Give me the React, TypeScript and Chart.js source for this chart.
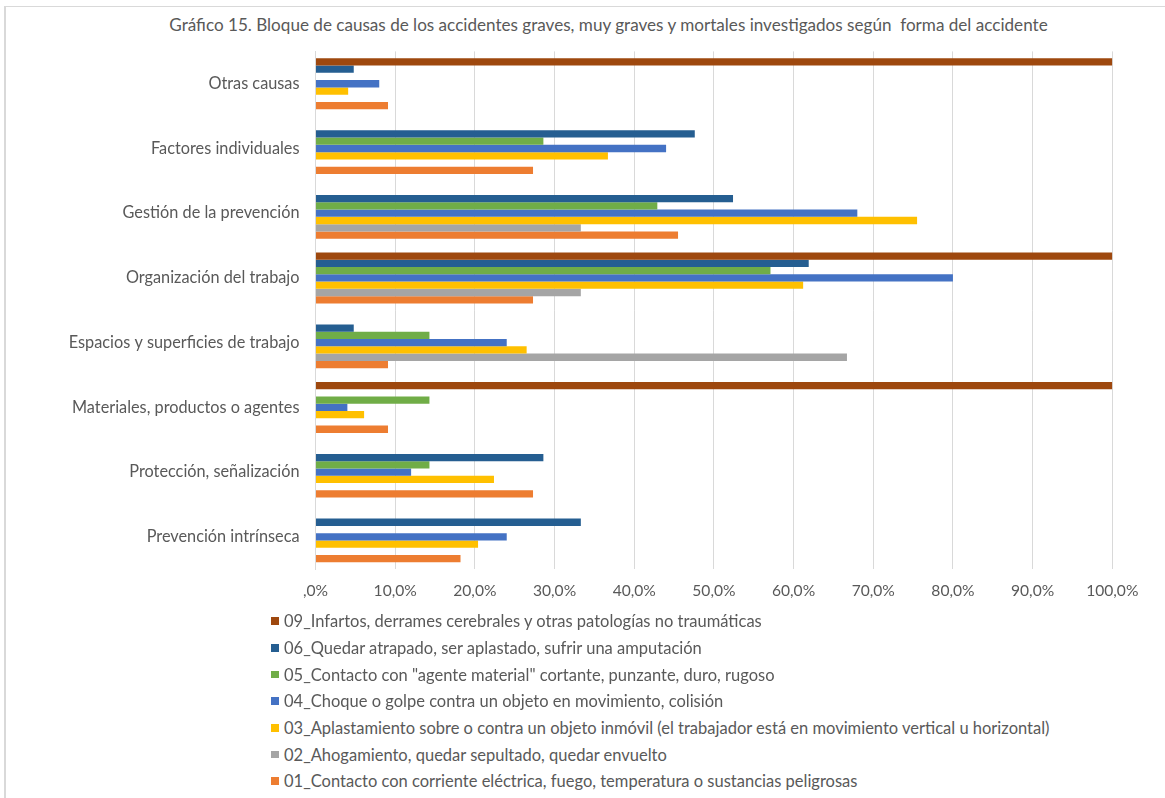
import React, { useEffect, useRef } from "react";
import { Chart, registerables } from "chart.js";

Chart.register(...registerables);

const TITLE =
  "Gráfico 15. Bloque de causas de los accidentes graves, muy graves y mortales investigados según  forma del accidente";

const categories = [
  "Otras causas",
  "Factores individuales",
  "Gestión de la prevención",
  "Organización del trabajo",
  "Espacios y superficies de trabajo",
  "Materiales, productos o agentes",
  "Protección, señalización",
  "Prevención intrínseca",
];

const seriesNames = [
  "09_Infartos, derrames cerebrales y otras patologías no traumáticas",
  "06_Quedar atrapado, ser aplastado, sufrir una amputación",
  "05_Contacto con \"agente material\" cortante, punzante, duro, rugoso",
  "04_Choque o golpe contra un objeto en movimiento, colisión",
  "03_Aplastamiento sobre o contra un objeto inmóvil (el trabajador está en movimiento vertical u horizontal)",
  "02_Ahogamiento, quedar sepultado, quedar envuelto",
  "01_Contacto con corriente eléctrica, fuego, temperatura o sustancias peligrosas",
];

const s09 = [100, null, null, 100, null, 100, null, null];
const s06 = [4.8, 47.6, 52.4, 61.9, 4.8, null, 28.6, 33.3];
const s05 = [null, 28.6, 42.9, 57.1, 14.3, 14.3, 14.3, null];
const s04 = [8.0, 44.0, 68.0, 80.0, 24.0, 4.0, 12.0, 24.0];
const s03 = [4.1, 36.7, 75.5, 61.2, 26.5, 6.1, 22.4, 20.4];
const s02 = [null, null, 33.3, 33.3, 66.7, null, null, null];
const s01 = [9.1, 27.3, 45.5, 27.3, 9.1, 9.1, 27.3, 18.2];

const seriesValues = [s09, s06, s05, s04, s03, s02, s01];

const colors = ["#9E480E", "#255E91", "#70AD47", "#4472C4", "#FFC000", "#A5A5A5", "#ED7D31"];

const FONT = "Lato, 'Open Sans', sans-serif";
const TEXT = "#595959";

const CANVAS_W = 1165;
const CANVAS_H = 612;

export default function App() {
  const ref = useRef<HTMLCanvasElement | null>(null);

  useEffect(() => {
    const canvas = ref.current;
    if (!canvas) return;
    const chart = new Chart(canvas, {
      type: "bar",
      data: {
        labels: categories,
        datasets: seriesNames.map((name, i) => ({
          label: name,
          data: seriesValues[i] as any,
          backgroundColor: colors[i],
          borderWidth: 0,
          categoryPercentage: 0.788,
          barPercentage: 1.0,
        })),
      },
      options: {
        indexAxis: "y",
        responsive: false,
        animation: false,
        devicePixelRatio: 1,
        layout: { padding: { top: 51.4, right: 52.7, left: 0, bottom: 0 } },
        plugins: {
          legend: { display: false },
          title: { display: false },
          tooltip: { enabled: false },
        },
        scales: {
          x: {
            min: 0,
            max: 100,
            ticks: {
              stepSize: 10,
              color: TEXT,
              padding: 12.5,
              font: { family: FONT, size: 15.6 },
              callback: (v: any) =>
                Number(v) === 0 ? ",0%" : Number(v).toFixed(1).replace(".", ",") + "%",
            },
            grid: { color: "#d9d9d9", lineWidth: 1, drawTicks: false },
            border: { display: false },
            afterFit: (scale: any) => {
              scale.height = CANVAS_H - 569.2;
            },
          },
          y: {
            ticks: {
              color: TEXT,
              padding: 16,
              font: { family: FONT, size: 16.3 },
            },
            grid: { display: false, drawTicks: false },
            border: { display: true, color: "#d9d9d9", width: 1 },
            afterFit: (scale: any) => {
              scale.width = 315.5;
            },
          },
        },
      },
    });
    return () => chart.destroy();
  }, []);

  return (
    <div
      style={{
        position: "absolute",
        left: 0,
        top: 0,
        width: 1165,
        height: 798,
        overflow: "hidden",
        background: "#ffffff",
        fontFamily: FONT,
      }}
    >
      <div
        style={{
          position: "absolute",
          left: 4,
          top: 6,
          width: 1300,
          height: 900,
          borderLeft: "2px solid #d9d9d9",
          borderTop: "1px solid #d9d9d9",
        }}
      />
      <div
        style={{
          position: "absolute",
          left: 0,
          top: 14,
          width: 1217,
          textAlign: "center",
          fontSize: 17.1,
          lineHeight: "22px",
          color: TEXT,
          whiteSpace: "pre",
        }}
      >
        {TITLE}
      </div>
      <canvas
        ref={ref}
        width={CANVAS_W}
        height={CANVAS_H}
        style={{ position: "absolute", left: 0, top: 0, width: CANVAS_W, height: CANVAS_H }}
      />
      {seriesNames.map((name, i) => (
        <div
          key={name}
          style={{
            position: "absolute",
            left: 271,
            top: 621.2 + i * 26.67 - 11,
            height: 22,
            display: "flex",
            alignItems: "center",
            whiteSpace: "pre",
            fontSize: 16.5,
            color: TEXT,
          }}
        >
          <span
            style={{
              display: "inline-block",
              width: 7.5,
              height: 7.5,
              background: colors[i],
              marginRight: 5.5,
            }}
          />
          <span>{name}</span>
        </div>
      ))}
    </div>
  );
}
